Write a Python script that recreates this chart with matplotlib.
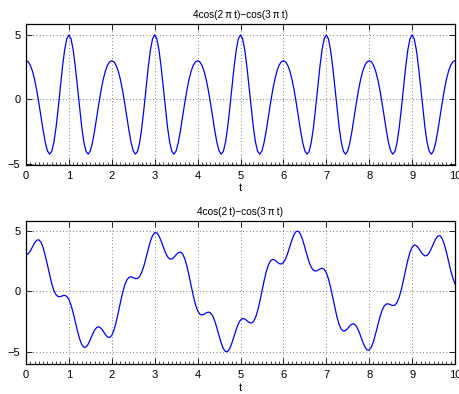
import numpy as np
import matplotlib
matplotlib.use('Agg')
import matplotlib.pyplot as plt
from matplotlib.ticker import MultipleLocator

plt.rcParams['font.family'] = ['Liberation Sans', 'DejaVu Sans']
plt.rcParams['font.size'] = 8

# sample grid, 0 to 10 in steps of 0.05
t = np.linspace(0, 10, 201)

# 4cos(2 pi t) - cos(3 pi t)
top_y = [
    3.0, 2.913, 2.648, 2.195, 1.545, 0.707, -0.285, -1.363, -2.427, -3.35, -4.0, -4.258, -4.045, -3.339, -2.187, -0.707, 0.927, 2.508, 3.824, 4.695,
    5.0, 4.695, 3.824, 2.508, 0.927, -0.707, -2.187, -3.339, -4.045, -4.258, -4.0, -3.35, -2.427, -1.363, -0.285, 0.707, 1.545, 2.195, 2.648, 2.913,
    3.0, 2.913, 2.648, 2.195, 1.545, 0.707, -0.285, -1.363, -2.427, -3.35, -4.0, -4.258, -4.045, -3.339, -2.187, -0.707, 0.927, 2.508, 3.824, 4.695,
    5.0, 4.695, 3.824, 2.508, 0.927, -0.707, -2.187, -3.339, -4.045, -4.258, -4.0, -3.35, -2.427, -1.363, -0.285, 0.707, 1.545, 2.195, 2.648, 2.913,
    3.0, 2.913, 2.648, 2.195, 1.545, 0.707, -0.285, -1.363, -2.427, -3.35, -4.0, -4.258, -4.045, -3.339, -2.187, -0.707, 0.927, 2.508, 3.824, 4.695,
    5.0, 4.695, 3.824, 2.508, 0.927, -0.707, -2.187, -3.339, -4.045, -4.258, -4.0, -3.35, -2.427, -1.363, -0.285, 0.707, 1.545, 2.195, 2.648, 2.913,
    3.0, 2.913, 2.648, 2.195, 1.545, 0.707, -0.285, -1.363, -2.427, -3.35, -4.0, -4.258, -4.045, -3.339, -2.187, -0.707, 0.927, 2.508, 3.824, 4.695,
    5.0, 4.695, 3.824, 2.508, 0.927, -0.707, -2.187, -3.339, -4.045, -4.258, -4.0, -3.35, -2.427, -1.363, -0.285, 0.707, 1.545, 2.195, 2.648, 2.913,
    3.0, 2.913, 2.648, 2.195, 1.545, 0.707, -0.285, -1.363, -2.427, -3.35, -4.0, -4.258, -4.045, -3.339, -2.187, -0.707, 0.927, 2.508, 3.824, 4.695,
    5.0, 4.695, 3.824, 2.508, 0.927, -0.707, -2.187, -3.339, -4.045, -4.258, -4.0, -3.35, -2.427, -1.363, -0.285, 0.707, 1.545, 2.195, 2.648, 2.913,
    3.0,
]

# 4cos(2t) - cos(3 pi t)
bottom_y = [
    3.0, 3.089, 3.332, 3.665, 3.993, 4.217, 4.252, 4.047, 3.596, 2.94, 2.161, 1.36, 0.64, 0.082, -0.271, -0.424, -0.426, -0.359, -0.321, -0.402,
    -0.665, -1.128, -1.766, -2.509, -3.259, -3.912, -4.379, -4.604, -4.578, -4.338, -3.96, -3.543, -3.184, -2.962, -2.916, -3.039, -3.278, -3.548, -3.752, -3.795,
    -3.615, -3.19, -2.549, -1.759, -0.92, -0.136, 0.502, 0.938, 1.159, 1.2, 1.135, 1.058, 1.065, 1.23, 1.588, 2.128, 2.793, 3.495, 4.13, 4.601,
    4.841, 4.824, 4.574, 4.155, 3.664, 3.199, 2.85, 2.67, 2.669, 2.809, 3.016, 3.192, 3.242, 3.092, 2.705, 2.093, 1.314, 0.457, -0.372, -1.075,
    -1.582, -1.865, -1.944, -1.881, -1.767, -1.7, -1.763, -2.005, -2.434, -3.006, -3.643, -4.243, -4.707, -4.955, -4.948, -4.694, -4.246, -3.692, -3.132, -2.664,
    -2.355, -2.23, -2.268, -2.406, -2.552, -2.608, -2.492, -2.153, -1.586, -0.836, 0.018, 0.871, 1.621, 2.187, 2.524, 2.639, 2.581, 2.434, 2.293, 2.253,
    2.375, 2.682, 3.146, 3.703, 4.254, 4.698, 4.949, 4.952, 4.7, 4.233, 3.63, 2.99, 2.415, 1.983, 1.738, 1.673, 1.738, 1.85, 1.911, 1.831,
    1.547, 1.04, 0.337, -0.492, -1.348, -2.127, -2.737, -3.122, -3.27, -3.218, -3.039, -2.829, -2.686, -2.684, -2.861, -3.207, -3.668, -4.156, -4.573, -4.82,
    -4.831, -4.588, -4.114, -3.475, -2.771, -2.103, -1.56, -1.2, -1.034, -1.025, -1.101, -1.165, -1.124, -0.903, -0.467, 0.171, 0.954, 1.792, 2.58, 3.219,
    3.641, 3.819, 3.773, 3.567, 3.294, 3.051, 2.925, 2.967, 3.186, 3.541, 3.955, 4.329, 4.566, 4.589, 4.36, 3.89, 3.235, 2.483, 1.737, 1.098,
    0.632,
]

titles = ['4cos(2\u2009π\u2009t)\u2212cos(3\u2009π\u2009t)', '4cos(2\u2009t)\u2212cos(3\u2009π\u2009t)']
ylims = [(-5.1, 5.85), (-6.0, 5.8)]
xticks = list(range(0, 11))
yticks = [-5, 0, 5]

fig = plt.figure(figsize=(4.6, 3.94), dpi=100)
ax1 = fig.add_axes([26 / 460, 229 / 394, 429 / 460, 141 / 394])
ax2 = fig.add_axes([26 / 460, 29.7 / 394, 429 / 460, 143.3 / 394])

for ax, y, title, yl in zip([ax1, ax2], [top_y, bottom_y], titles, ylims):
    ax.plot(t, y, color='#0000ff', lw=0.9)
    ax.set_xlim(0, 10)
    ax.set_ylim(*yl)
    ax.set_xticks(xticks)
    ax.set_yticks(yticks)
    ax.xaxis.set_minor_locator(MultipleLocator(0.1))
    ax.tick_params(which='major', direction='in', length=4, width=0.6,
                   top=True, right=True, pad=4)
    ax.tick_params(which='minor', direction='in', length=2, width=0.5,
                   bottom=True, top=False)
    ax.grid(True, which='major', color='#555555', linestyle=(0, (1, 3)), lw=0.6)
    for s in ax.spines.values():
        s.set_linewidth(0.9)
    ax.set_title(title, fontsize=7.2, pad=4)
    ax.set_xlabel('t', labelpad=2)

fig.savefig('out.png', dpi=100)
